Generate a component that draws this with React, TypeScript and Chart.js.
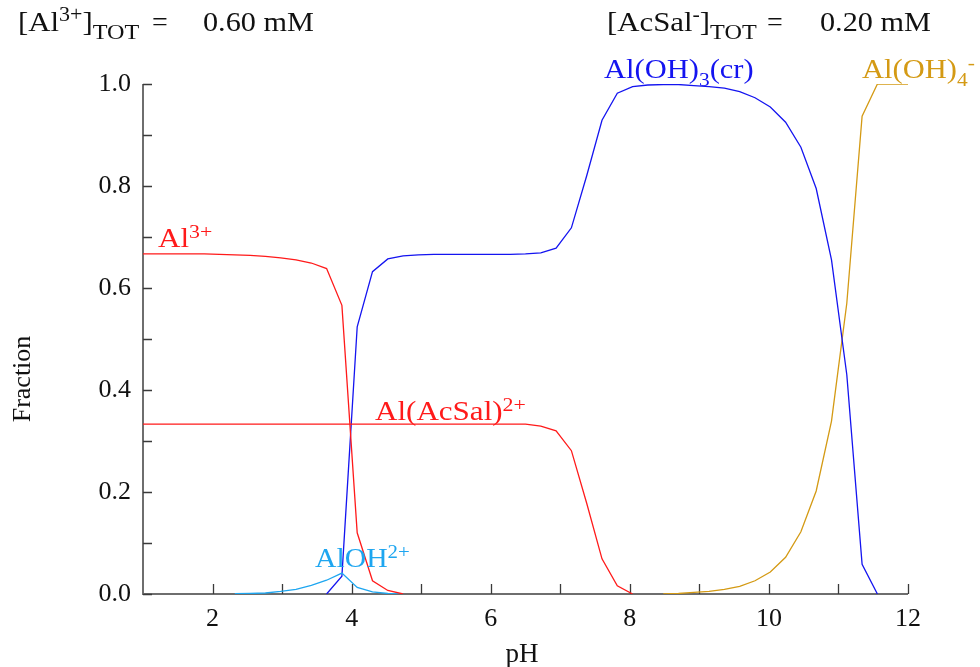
import React, { useEffect, useRef } from "react";
import { Chart, registerables } from "chart.js";

Chart.register(...registerables);

const pH = [1, 1.22, 1.44, 1.66, 1.88, 2.1, 2.32, 2.54, 2.76, 2.98, 3.2, 3.42, 3.64, 3.86, 4.08, 4.3, 4.52, 4.74, 4.96, 5.18, 5.4, 5.62, 5.84, 6.06, 6.28, 6.5, 6.72, 6.94, 7.16, 7.38, 7.6, 7.82, 8.04, 8.26, 8.48, 8.7, 8.92, 9.14, 9.36, 9.58, 9.8, 10.02, 10.24, 10.46, 10.68, 10.9, 11.12, 11.34, 11.56, 11.78, 12];

const al3 = [0.667, 0.667, 0.667, 0.667, 0.667, 0.666, 0.665, 0.664, 0.662, 0.659, 0.655, 0.649, 0.638, 0.566, 0.12, 0.026, 0.007, 0.0, null, null, null, null, null, null, null, null, null, null, null, null, null, null, null, null, null, null, null, null, null, null, null, null, null, null, null, null, null, null, null, null, null];

const alOH = [null, null, null, null, null, null, 0.0005, 0.001, 0.002, 0.005, 0.009, 0.017, 0.027, 0.041, 0.013, 0.004, 0.001, 0.0, null, null, null, null, null, null, null, null, null, null, null, null, null, null, null, null, null, null, null, null, null, null, null, null, null, null, null, null, null, null, null, null, null];

const alAcSal = [0.333, 0.333, 0.333, 0.333, 0.333, 0.333, 0.333, 0.333, 0.333, 0.333, 0.333, 0.333, 0.333, 0.333, 0.333, 0.333, 0.333, 0.333, 0.333, 0.333, 0.333, 0.333, 0.333, 0.333, 0.333, 0.333, 0.329, 0.32, 0.281, 0.178, 0.069, 0.016, 0.0, null, null, null, null, null, null, null, null, null, null, null, null, null, null, null, null, null, null];

const alOH3cr = [null, null, null, null, null, null, null, null, null, null, null, null, 0.0, 0.035, 0.524, 0.632, 0.657, 0.663, 0.665, 0.666, 0.666, 0.666, 0.666, 0.666, 0.666, 0.667, 0.669, 0.678, 0.718, 0.82, 0.929, 0.982, 0.995, 0.998, 0.999, 0.999, 0.997, 0.995, 0.992, 0.985, 0.973, 0.955, 0.925, 0.876, 0.795, 0.655, 0.43, 0.058, 0.0, null, null];

const alOH4 = [null, null, null, null, null, null, null, null, null, null, null, null, null, null, null, null, null, null, null, null, null, null, null, null, null, null, null, null, null, null, null, null, null, null, 0.0, 0.001, 0.003, 0.005, 0.009, 0.015, 0.026, 0.043, 0.072, 0.122, 0.202, 0.339, 0.57, 0.937, 1.0, 1.0, 1.0];

const xTickValues = [1, 2, 3, 4, 5, 6, 7, 8, 9, 10, 11, 12];
const yTickValues = [0, 0.1, 0.2, 0.3, 0.4, 0.5, 0.6, 0.7, 0.8, 0.9, 1.0];

const RED = "#ff1a1a";
const BLUE = "#1414f0";
const LIGHTBLUE = "#1ea6f0";
const ORANGE = "#d49a14";
const FONT = "'Liberation Serif', 'Times New Roman', Times, serif";

type Part = { t: string; k?: "sup" | "sub" };

function drawRich(
  ctx: CanvasRenderingContext2D,
  x: number,
  y: number,
  parts: Part[],
  size: number,
  color: string,
  sx = 1,
  supR = 0.72,
  subR = 0.72
) {
  ctx.save();
  ctx.translate(x, y);
  ctx.scale(sx, 1);
  ctx.fillStyle = color;
  ctx.textBaseline = "alphabetic";
  ctx.textAlign = "left";
  let cx = 0;
  for (const p of parts) {
    let fs = size;
    let dy = 0;
    if (p.k === "sup") { fs = Math.round(size * supR); dy = -size * 0.34; }
    if (p.k === "sub") { fs = Math.round(size * subR); dy = size * 0.3; }
    ctx.font = `${fs}px ${FONT}`;
    ctx.fillText(p.t, cx, dy);
    cx += ctx.measureText(p.t).width;
  }
  ctx.restore();
}

const mkData = (arr: (number | null)[]) => pH.map((x, i) => ({ x, y: arr[i] }));

const overlay = {
  id: "overlay",
  beforeDatasetsDraw(chart: any) {
    const { ctx, scales } = chart;
    const xs = scales.x;
    const ys = scales.y;
    const x0 = xs.getPixelForValue(1);
    const x1 = xs.getPixelForValue(12);
    const y0 = ys.getPixelForValue(0);
    const y1 = ys.getPixelForValue(1);
    ctx.save();
    ctx.strokeStyle = "#6e6e6e";
    ctx.lineWidth = 2;
    ctx.beginPath();
    ctx.moveTo(x0, y1);
    ctx.lineTo(x0, y0);
    ctx.lineTo(x1, y0);
    ctx.stroke();
    ctx.strokeStyle = "#3a3a3a";
    ctx.lineWidth = 1.3;
    ctx.beginPath();
    for (const v of yTickValues) {
      const py = Math.round(ys.getPixelForValue(v)) + 0.5;
      ctx.moveTo(x0, py);
      ctx.lineTo(x0 + 9, py);
    }
    for (const v of xTickValues) {
      if (v === 1) continue;
      const px = Math.round(xs.getPixelForValue(v)) + 0.5;
      ctx.moveTo(px, y0);
      ctx.lineTo(px, y0 - 10);
    }
    ctx.stroke();
    ctx.restore();
  },
  afterDraw(chart: any) {
    const { ctx } = chart;
    // header
    drawRich(ctx, 18, 31, [{ t: "[Al" }, { t: "3+", k: "sup" }, { t: "]" }, { t: "TOT", k: "sub" }], 28, "#111", 1.1, 0.7, 0.8);
    drawRich(ctx, 152, 31, [{ t: "=" }], 28, "#111");
    drawRich(ctx, 203, 31, [{ t: "0.60 mM" }], 28, "#111", 1.08);
    drawRich(ctx, 607, 31, [{ t: "[AcSal" }, { t: "-", k: "sup" }, { t: "]" }, { t: "TOT", k: "sub" }], 28, "#111", 1.1, 0.7, 0.8);
    drawRich(ctx, 767, 31, [{ t: "=" }], 28, "#111");
    drawRich(ctx, 820, 31, [{ t: "0.20 mM" }], 28, "#111", 1.08);
    // species labels
    drawRich(ctx, 158, 247, [{ t: "Al" }, { t: "3+", k: "sup" }], 27, RED, 1.15);
    drawRich(ctx, 375, 420, [{ t: "Al(AcSal)" }, { t: "2+", k: "sup" }], 27, RED, 1.15);
    drawRich(ctx, 315, 567, [{ t: "AlOH" }, { t: "2+", k: "sup" }], 27, LIGHTBLUE, 1.1);
    drawRich(ctx, 604, 78, [{ t: "Al(OH)" }, { t: "3", k: "sub" }, { t: "(cr)" }], 27, BLUE, 1.13);
    drawRich(ctx, 862, 78, [{ t: "Al(OH)" }, { t: "4", k: "sub" }, { t: "-", k: "sup" }], 27, ORANGE, 1.13);
    // axis titles
    ctx.save();
    ctx.fillStyle = "#111";
    ctx.font = `27px ${FONT}`;
    ctx.textAlign = "center";
    ctx.textBaseline = "alphabetic";
    ctx.fillText("pH", 522, 662);
    ctx.font = `26px ${FONT}`;
    ctx.translate(30, 379);
    ctx.rotate(-Math.PI / 2);
    ctx.fillText("Fraction", 0, 0);
    ctx.restore();
  },
};

export default function App() {
  const ref = useRef<HTMLCanvasElement | null>(null);
  useEffect(() => {
    if (!ref.current) return;
    const ds = (label: string, arr: (number | null)[], color: string) => ({
      label,
      data: mkData(arr),
      borderColor: color,
      backgroundColor: color,
      borderWidth: 1.3,
      pointRadius: 0,
      tension: 0,
      spanGaps: false,
    });
    const chart = new Chart(ref.current, {
      type: "line",
      data: {
        datasets: [
          ds("Al3+", al3, RED),
          ds("Al(AcSal)2+", alAcSal, RED),
          ds("AlOH2+", alOH, LIGHTBLUE),
          ds("Al(OH)3(cr)", alOH3cr, BLUE),
          ds("Al(OH)4-", alOH4, ORANGE),
        ],
      },
      options: {
        animation: false,
        responsive: false,
        maintainAspectRatio: false,
        layout: { padding: { left: 0, right: 72, top: 84, bottom: 0 } },
        plugins: { legend: { display: false }, tooltip: { enabled: false } },
        scales: {
          x: {
            type: "linear",
            min: 1,
            max: 12,
            grid: { display: false, drawTicks: false, tickLength: 0 },
            border: { display: false },
            afterFit: (s: any) => { s.height = 73; },
            afterBuildTicks: (s: any) => { s.ticks = xTickValues.map((v) => ({ value: v })); },
            ticks: {
              autoSkip: false,
              maxRotation: 0,
              padding: 10,
              color: "#111",
              font: { family: FONT, size: 26 },
              callback: (v: any) => (Number(v) % 2 === 0 ? String(v) : ""),
            },
          },
          y: {
            type: "linear",
            min: 0,
            max: 1,
            grid: { display: false, drawTicks: false, tickLength: 0 },
            border: { display: false },
            afterFit: (s: any) => { s.width = 143; },
            afterBuildTicks: (s: any) => { s.ticks = yTickValues.map((v) => ({ value: v })); },
            ticks: {
              autoSkip: false,
              padding: 12,
              color: "#111",
              font: { family: FONT, size: 26 },
              callback: (v: any) => (Math.round(Number(v) * 10) % 2 === 0 ? Number(v).toFixed(1) : ""),
            },
          },
        },
      },
      plugins: [overlay],
    });
    return () => chart.destroy();
  }, []);
  return (
    <div style={{ position: "absolute", left: 0, top: 0, width: 980, height: 667, background: "#fff" }}>
      <canvas ref={ref} width={980} height={667} style={{ display: "block" }} />
    </div>
  );
}
